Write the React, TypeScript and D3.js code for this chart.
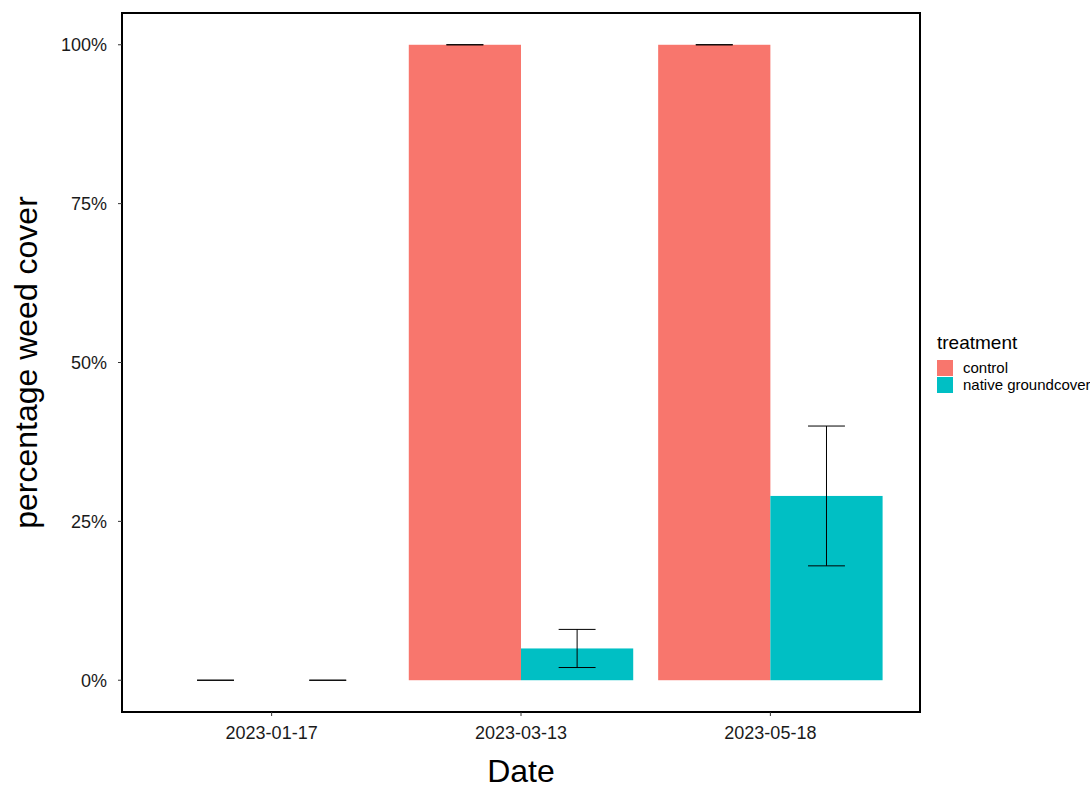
import React from "react";
import * as d3 from "d3";

const dates = ["2023-01-17", "2023-03-13", "2023-05-18"];
const treatments = ["control", "native groundcover"];
const colors = ["#F8766D", "#00BFC4"];
const controlMean = [0, 100, 100];
const controlLow = [0, 100, 100];
const controlHigh = [0, 100, 100];
const nativeMean = [0, 5, 29];
const nativeLow = [0, 2, 18];
const nativeHigh = [0, 8, 40];
const yTicks = [0, 25, 50, 75, 100];

const rows = dates.flatMap((d, i) => [
  { date: d, t: treatments[0], mean: controlMean[i], lo: controlLow[i], hi: controlHigh[i] },
  { date: d, t: treatments[1], mean: nativeMean[i], lo: nativeLow[i], hi: nativeHigh[i] },
]);

export default function App() {
  const W = 1090, H = 790;
  const L = 122, R = 920, T = 13, B = 712;
  const x = d3.scaleLinear().domain([0.4, 3.6]).range([L, R]);
  const y = d3.scaleLinear().domain([-5, 105]).range([B, T]);
  const unit = x(2) - x(1);
  const barW = 0.45 * unit;
  const ebW = 0.148 * unit;
  const color = d3.scaleOrdinal<string, string>().domain(treatments).range(colors);
  const font = "'Liberation Sans', Arial, sans-serif";
  const fmt = (v: number) => `${v}%`;
  return (
    <svg width={W} height={H} style={{ position: "absolute", left: 0, top: 0 }} fontFamily={font}>
      <rect x={0} y={0} width={W} height={H} fill="white" />
      {rows.map((r, i) => {
        const di = dates.indexOf(r.date);
        const ti = treatments.indexOf(r.t);
        const cx = x(di + 1) + (ti === 0 ? -barW / 2 : barW / 2);
        return (
          <g key={i}>
            {r.mean > 0 && (
              <rect x={cx - barW / 2} y={y(r.mean)} width={barW} height={y(0) - y(r.mean)} fill={color(r.t)} />
            )}
          </g>
        );
      })}
      {rows.map((r, i) => {
        const di = dates.indexOf(r.date);
        const ti = treatments.indexOf(r.t);
        const cx = x(di + 1) + (ti === 0 ? -barW / 2 : barW / 2);
        return (
          <g key={"e" + i} stroke="#000" strokeWidth={1}>
            <line x1={cx - ebW / 2} x2={cx + ebW / 2} y1={y(r.hi)} y2={y(r.hi)} />
            <line x1={cx - ebW / 2} x2={cx + ebW / 2} y1={y(r.lo)} y2={y(r.lo)} />
            <line x1={cx} x2={cx} y1={y(r.hi)} y2={y(r.lo)} />
          </g>
        );
      })}
      <rect x={L} y={T} width={R - L} height={B - T} fill="none" stroke="#000" strokeWidth={2} />
      {yTicks.map((v) => (
        <g key={v}>
          <line x1={L - 4} x2={L} y1={y(v)} y2={y(v)} stroke="#333" strokeWidth={1} />
          <text x={L - 15} y={y(v)} dy="0.36em" textAnchor="end" fontSize={18} fill="#1a1a1a">
            {fmt(v)}
          </text>
        </g>
      ))}
      {dates.map((d, i) => (
        <g key={d}>
          <line x1={x(i + 1)} x2={x(i + 1)} y1={B} y2={B + 4} stroke="#333" strokeWidth={1} />
          <text x={x(i + 1)} y={739} textAnchor="middle" fontSize={18} fill="#1a1a1a">
            {d}
          </text>
        </g>
      ))}
      <text x={(L + R) / 2} y={782} textAnchor="middle" fontSize={32} fill="#000">
        Date
      </text>
      <text
        transform={`translate(37,${(T + B) / 2}) rotate(-90)`}
        textAnchor="middle"
        fontSize={32}
        fill="#000"
      >
        percentage weed cover
      </text>
      <text x={937} y={349} fontSize={19} fill="#000">
        treatment
      </text>
      {treatments.map((t, i) => (
        <g key={t}>
          <rect x={937} y={360 + i * 17} width={16} height={16} fill={colors[i]} />
          <text x={963} y={368 + i * 17} dy="0.36em" fontSize={15} fill="#000">
            {t}
          </text>
        </g>
      ))}
    </svg>
  );
}
